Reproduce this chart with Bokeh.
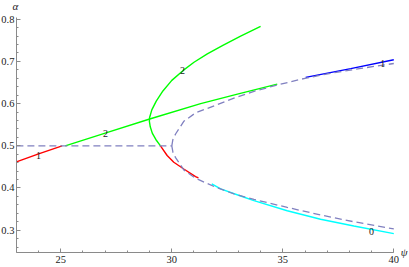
from bokeh.plotting import figure
from bokeh.models import Range1d, FixedTicker, PrintfTickFormatter, ColumnDataSource
from bokeh.embed import file_html
from bokeh.resources import INLINE
from bokeh.core.properties import value

# ---- data ----
# dashed horizontal branch
dash_h_psi = [23.0, 30.0]
dash_h_alpha = [0.5, 0.5]
# dashed sideways parabola (upper and lower branch)
dash_up_psi = [30.0, 30.05, 30.17, 30.54, 31.07, 31.97, 32.8, 33.7, 34.75, 36.0, 37.3, 38.6, 40.0]
dash_up_alpha = [0.500, 0.515, 0.528, 0.558, 0.578, 0.596, 0.613, 0.629, 0.644, 0.660, 0.673, 0.684, 0.695]
dash_lo_psi = [30.0, 30.05, 30.17, 30.54, 31.07, 31.97, 32.8, 33.7, 35.2, 36.7, 38.2, 40.0]
dash_lo_alpha = [0.500, 0.485, 0.472, 0.443, 0.423, 0.402, 0.386, 0.373, 0.354, 0.336, 0.320, 0.303]
# red branch (left)
red1_psi = [23.0, 24.0, 25.06]
red1_alpha = [0.462, 0.481, 0.500]
# green straight-ish branch
green1_psi = [25.2, 27.0, 29.04, 31.3, 33.0, 34.75]
green1_alpha = [0.500, 0.530, 0.564, 0.600, 0.623, 0.646]
# blue branch
blue_psi = [36.03, 38.06, 40.0]
blue_alpha = [0.662, 0.683, 0.704]
# green curved branch
green2_psi = [34.0, 33.1, 32.3, 31.6, 31.0, 30.5, 30.0, 29.6, 29.3, 29.1, 29.0, 28.99, 29.03, 29.12, 29.28, 29.49]
green2_alpha = [0.783, 0.760, 0.738, 0.718, 0.698, 0.678, 0.655, 0.630, 0.606, 0.585, 0.567, 0.558, 0.545, 0.530, 0.515, 0.500]
# red branch (lower middle)
red2_psi = [29.49, 29.79, 30.09, 30.54, 31.07, 31.2]
red2_alpha = [0.500, 0.477, 0.461, 0.445, 0.427, 0.424]
# cyan branch
cyan_psi = [31.8, 32.2, 33.1, 33.7, 35.2, 36.7, 38.2, 40.0]
cyan_alpha = [0.410, 0.398, 0.381, 0.370, 0.346, 0.326, 0.310, 0.292]
# curve labels
lab_psi = [24.0, 27.01, 30.48, 39.5, 39.0]
lab_alpha = [0.478, 0.528, 0.679, 0.695, 0.298]
lab_text = ["1", "2", "2", "1", "0"]
# axis names
axis_names = ["α", "ψ"]
# ticks
x_ticks = [25, 30, 35, 40]
x_minor = list(range(23, 41))
y_ticks = [0.3, 0.4, 0.5, 0.6, 0.7, 0.8]
y_minor = [round(0.26 + 0.02 * i, 2) for i in range(28)]
x_lo, x_hi = 23, 40
y_lo, y_hi = 0.2472, 0.804

SERIF = "Liberation Serif"

p = figure(width=409, height=267, output_backend="svg", toolbar_location=None,
           x_range=Range1d(22.284, 40.707), y_range=Range1d(0.2116, 0.8443),
           min_border=0, min_border_left=0, min_border_right=0, min_border_top=0, min_border_bottom=0,
           background_fill_color="white", border_fill_color="white")
p.outline_line_color = None
p.grid.visible = False

xa = p.xaxis[0]
ya = p.yaxis[0]
xa.fixed_location = y_lo
xa.bounds = (x_lo, x_hi)
ya.fixed_location = x_lo
ya.bounds = (y_lo, y_hi)

for ax, ticks, minor, fmt in ((xa, x_ticks, x_minor, "%d"), (ya, y_ticks, y_minor, "%.1f")):
    ax.ticker = FixedTicker(ticks=ticks, minor_ticks=minor)
    ax.formatter = PrintfTickFormatter(format=fmt)
    ax.axis_line_color = "#8a8a8a"
    ax.major_tick_line_color = "#8a8a8a"
    ax.minor_tick_line_color = "#8a8a8a"
    ax.major_tick_in = 4
    ax.major_tick_out = 0
    ax.minor_tick_in = 2
    ax.minor_tick_out = 0
    ax.major_label_text_font = SERIF
    ax.major_label_text_font_size = "10.5px"
    ax.major_label_text_color = "#222222"
xa.major_label_standoff = 4
ya.major_label_standoff = 2

LW = 1.4
p.line(red1_psi, red1_alpha, line_color="#ff0000", line_width=LW)
p.line(green1_psi, green1_alpha, line_color="#00ff00", line_width=LW)
p.line(blue_psi, blue_alpha, line_color="#0000ff", line_width=LW)
p.line(green2_psi, green2_alpha, line_color="#00ff00", line_width=LW)
p.line(red2_psi, red2_alpha, line_color="#ff0000", line_width=LW)
p.line(cyan_psi, cyan_alpha, line_color="#00ffff", line_width=LW)

DC = "#8080c0"
p.line(dash_h_psi, dash_h_alpha, line_color=DC, line_width=1.3, line_dash="7 4")
p.line(dash_up_psi, dash_up_alpha, line_color=DC, line_width=1.3, line_dash="7 4")
p.line(dash_lo_psi, dash_lo_alpha, line_color=DC, line_width=1.3, line_dash="7 4")

src = ColumnDataSource(dict(x=lab_psi, y=lab_alpha, t=lab_text))
p.text(x="x", y="y", text="t", source=src, text_font=value(SERIF), text_font_size="10px",
       text_color="#222222", text_align="center", text_baseline="middle")

# axis names at the ends of the axes (as text in the frame)
p.text(x=[22.955, 40.47], y=[0.831, 0.2472], text=axis_names, text_font=value(SERIF),
       text_font_style="italic", text_font_size="11px", text_color="#222222",
       text_align="center", text_baseline="middle")

open("out.html", "w").write(file_html(p, INLINE))
